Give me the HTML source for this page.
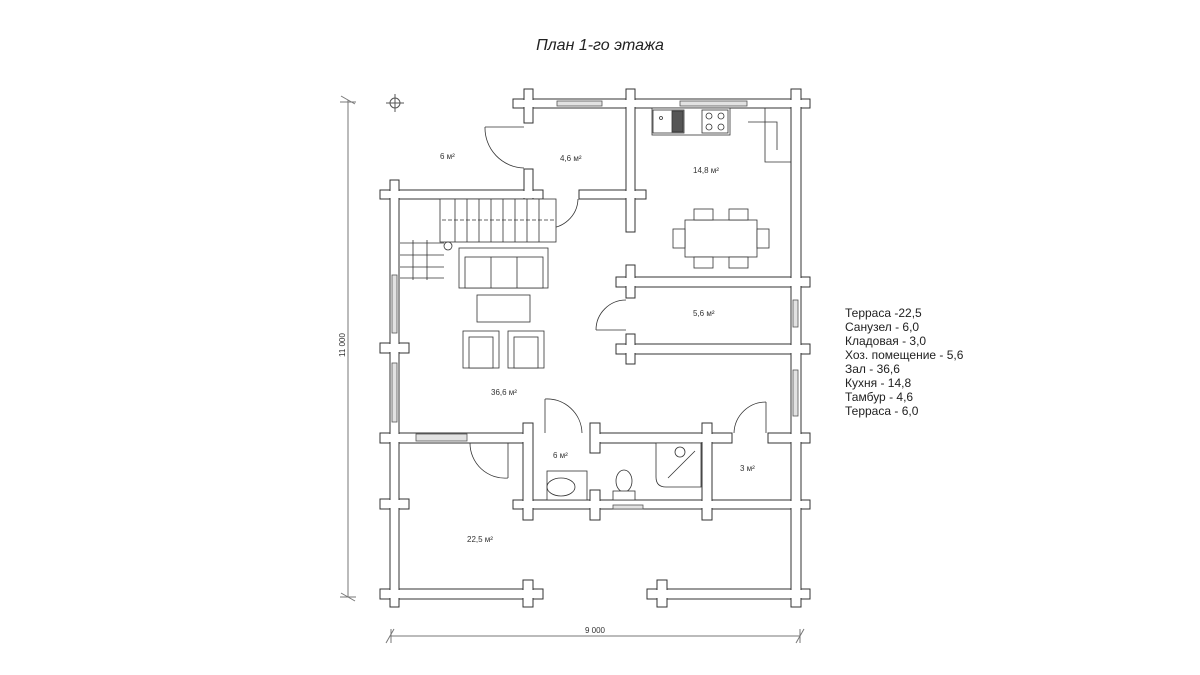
<!DOCTYPE html>
<html><head><meta charset="utf-8"><style>
body{margin:0;background:#fff;}
svg{display:block;font-family:"Liberation Sans",sans-serif;}
</style></head><body>
<svg width="1200" height="675" viewBox="0 0 1200 675" xmlns="http://www.w3.org/2000/svg">
<rect width="1200" height="675" fill="#fff"/>
<text x="600" y="50" font-size="16" font-style="italic" text-anchor="middle" fill="#222">План 1-го этажа</text>

<g stroke="#777" stroke-width="1">
<line x1="348" y1="100" x2="348" y2="597"/>
<line x1="341" y1="96" x2="355" y2="104"/><line x1="341" y1="593" x2="355" y2="601"/>
<line x1="340" y1="102" x2="356" y2="102"/><line x1="340" y1="597" x2="356" y2="597"/>
<line x1="390" y1="636" x2="800" y2="636"/>
<line x1="386" y1="643" x2="394" y2="629"/><line x1="796" y1="643" x2="804" y2="629"/>
<line x1="391" y1="629" x2="391" y2="643"/><line x1="800" y1="629" x2="800" y2="643"/>
</g>
<text x="0" y="0" font-size="8" fill="#333" text-anchor="middle" transform="translate(345,345) rotate(-90)">11 000</text>
<text x="595" y="633" font-size="8" fill="#333" text-anchor="middle">9 000</text>
<g stroke="#555" fill="none"><circle cx="395" cy="103" r="5"/><line x1="395" y1="94" x2="395" y2="112"/><line x1="386" y1="103" x2="404" y2="103"/></g>

<g stroke="#333" stroke-width="1" fill="#fff">
<rect x="513" y="99" width="297" height="9"/>
<rect x="380" y="190" width="163" height="9"/>
<rect x="579" y="190" width="67" height="9"/>
<rect x="616" y="277" width="194" height="10"/>
<rect x="616" y="344" width="194" height="10"/>
<rect x="380" y="433" width="153" height="10"/>
<rect x="590" y="433" width="142" height="10"/>
<rect x="768" y="433" width="42" height="10"/>
<rect x="513" y="500" width="297" height="9"/>
<rect x="380" y="499" width="29" height="10"/>
<rect x="380" y="343" width="29" height="10"/>
<rect x="380" y="589" width="163" height="10"/>
<rect x="647" y="589" width="163" height="10"/>
<rect x="390" y="180" width="9" height="427"/>
<rect x="524" y="89" width="9" height="34"/>
<rect x="524" y="169" width="9" height="30"/>
<rect x="626" y="89" width="9" height="143"/>
<rect x="626" y="265" width="9" height="33"/>
<rect x="626" y="334" width="9" height="30"/>
<rect x="791" y="89" width="10" height="518"/>
<rect x="523" y="423" width="10" height="97"/>
<rect x="590" y="423" width="10" height="30"/>
<rect x="590" y="490" width="10" height="30"/>
<rect x="702" y="423" width="10" height="97"/>
<rect x="523" y="580" width="10" height="27"/>
<rect x="657" y="580" width="10" height="27"/>
</g>
<g fill="#fff">
<rect x="514" y="100" width="295" height="7"/>
<rect x="381" y="191" width="161" height="7"/>
<rect x="580" y="191" width="65" height="7"/>
<rect x="617" y="278" width="192" height="8"/>
<rect x="617" y="345" width="192" height="8"/>
<rect x="381" y="434" width="151" height="8"/>
<rect x="591" y="434" width="140" height="8"/>
<rect x="769" y="434" width="40" height="8"/>
<rect x="514" y="501" width="295" height="7"/>
<rect x="381" y="500" width="27" height="8"/>
<rect x="381" y="344" width="27" height="8"/>
<rect x="381" y="590" width="161" height="8"/>
<rect x="648" y="590" width="161" height="8"/>
<rect x="391" y="181" width="7" height="425"/>
<rect x="525" y="90" width="7" height="32"/>
<rect x="525" y="170" width="7" height="28"/>
<rect x="627" y="90" width="7" height="141"/>
<rect x="627" y="266" width="7" height="31"/>
<rect x="627" y="335" width="7" height="28"/>
<rect x="792" y="90" width="8" height="516"/>
<rect x="524" y="424" width="8" height="95"/>
<rect x="591" y="424" width="8" height="28"/>
<rect x="591" y="491" width="8" height="28"/>
<rect x="703" y="424" width="8" height="95"/>
<rect x="524" y="581" width="8" height="25"/>
<rect x="658" y="581" width="8" height="25"/>
</g>

<g fill="#e2e2e2" stroke="#555" stroke-width="0.8">
<rect x="557" y="101" width="45" height="5"/>
<rect x="680" y="101" width="67" height="5"/>
<rect x="392" y="275" width="5" height="58"/>
<rect x="392" y="363" width="5" height="59"/>
<rect x="793" y="300" width="5" height="27"/>
<rect x="793" y="370" width="5" height="46"/>
<rect x="416" y="434" width="51" height="7"/>
<rect x="613" y="505" width="30" height="4"/>
</g>

<g fill="none" stroke="#333" stroke-width="0.8">
<path d="M485 127 A40 40 0 0 0 524 168"/><line x1="485" y1="127" x2="524" y2="127"/>
<path d="M546 228 A30 30 0 0 0 578 199"/><line x1="546" y1="199" x2="546" y2="228"/>
<path d="M596 330 A30 30 0 0 1 626 300"/><line x1="596" y1="330" x2="626" y2="330"/>
<path d="M545 399 A35 35 0 0 1 582 433"/><line x1="545" y1="399" x2="545" y2="433"/>
<path d="M734 433 A32 32 0 0 1 766 402"/><line x1="766" y1="402" x2="766" y2="433"/>
<path d="M470 443 A35 35 0 0 0 508 478"/><line x1="508" y1="443" x2="508" y2="478"/>
</g>

<g fill="#fff" stroke="#333" stroke-width="0.8">
<rect x="652" y="108" width="78" height="27"/>
<rect x="653" y="110" width="31" height="23"/>
<rect x="702" y="110" width="26" height="23"/>
<circle cx="709" cy="116" r="3"/><circle cx="721" cy="116" r="3"/><circle cx="709" cy="127" r="3"/><circle cx="721" cy="127" r="3"/>
<circle cx="661" cy="118" r="1.5"/>
<rect x="672" y="111" width="11" height="21" fill="#555"/>
<polyline points="765,108 765,162 791,162" fill="none"/>
<polyline points="748,122 777,122 777,150" fill="none"/>
<rect x="685" y="220" width="72" height="37"/>
<rect x="694" y="209" width="19" height="11"/><rect x="729" y="209" width="19" height="11"/>
<rect x="694" y="257" width="19" height="11"/><rect x="729" y="257" width="19" height="11"/>
<rect x="673" y="229" width="12" height="19"/><rect x="757" y="229" width="12" height="19"/>
<rect x="440" y="199" width="116" height="43"/>
<rect x="459" y="248" width="89" height="40"/>
<rect x="465" y="257" width="78" height="31"/>
<rect x="477" y="295" width="53" height="27"/>
<rect x="463" y="331" width="36" height="37"/><rect x="469" y="337" width="24" height="31"/>
<rect x="508" y="331" width="36" height="37"/><rect x="514" y="337" width="24" height="31"/>
<rect x="547" y="471" width="40" height="29"/>
<ellipse cx="561" cy="487" rx="14" ry="9"/>
<ellipse cx="624" cy="481" rx="8" ry="11"/>
<rect x="613" y="491" width="22" height="9"/>
<path d="M656 443 H701 V487 H666 Q656 487 656 477 Z"/>
<circle cx="680" cy="452" r="5"/>
<line x1="668" y1="478" x2="695" y2="451"/>
</g>
<g stroke="#333" stroke-width="0.8">
<line x1="442" y1="220" x2="556" y2="220" stroke-dasharray="4 2"/>
<line x1="455" y1="199" x2="455" y2="242"/><line x1="467" y1="199" x2="467" y2="242"/>
<line x1="479" y1="199" x2="479" y2="242"/><line x1="491" y1="199" x2="491" y2="242"/>
<line x1="503" y1="199" x2="503" y2="242"/><line x1="515" y1="199" x2="515" y2="242"/>
<line x1="527" y1="199" x2="527" y2="242"/><line x1="539" y1="199" x2="539" y2="242"/>
<line x1="400" y1="243" x2="444" y2="243"/><line x1="400" y1="255" x2="444" y2="255"/>
<line x1="400" y1="267" x2="444" y2="267"/><line x1="400" y1="278" x2="444" y2="278"/>
<line x1="413" y1="240" x2="413" y2="280"/><line x1="427" y1="240" x2="427" y2="280"/>
<line x1="491" y1="257" x2="491" y2="288"/><line x1="517" y1="257" x2="517" y2="288"/>
</g>
<circle cx="448" cy="246" r="4" fill="#fff" stroke="#333" stroke-width="0.8"/>

<g font-size="8" fill="#333">
<text x="440" y="159">6 м²</text>
<text x="560" y="161">4,6 м²</text>
<text x="693" y="173">14,8 м²</text>
<text x="693" y="316">5,6 м²</text>
<text x="491" y="395">36,6 м²</text>
<text x="553" y="458">6 м²</text>
<text x="740" y="471">3 м²</text>
<text x="467" y="542">22,5 м²</text>
</g>
<g font-size="12" fill="#222">
<text x="845" y="317">Терраса -22,5</text>
<text x="845" y="331">Санузел - 6,0</text>
<text x="845" y="345">Кладовая - 3,0</text>
<text x="845" y="359">Хоз. помещение - 5,6</text>
<text x="845" y="373">Зал - 36,6</text>
<text x="845" y="387">Кухня - 14,8</text>
<text x="845" y="401">Тамбур - 4,6</text>
<text x="845" y="415">Терраса - 6,0</text>
</g>
</svg>
</body></html>
